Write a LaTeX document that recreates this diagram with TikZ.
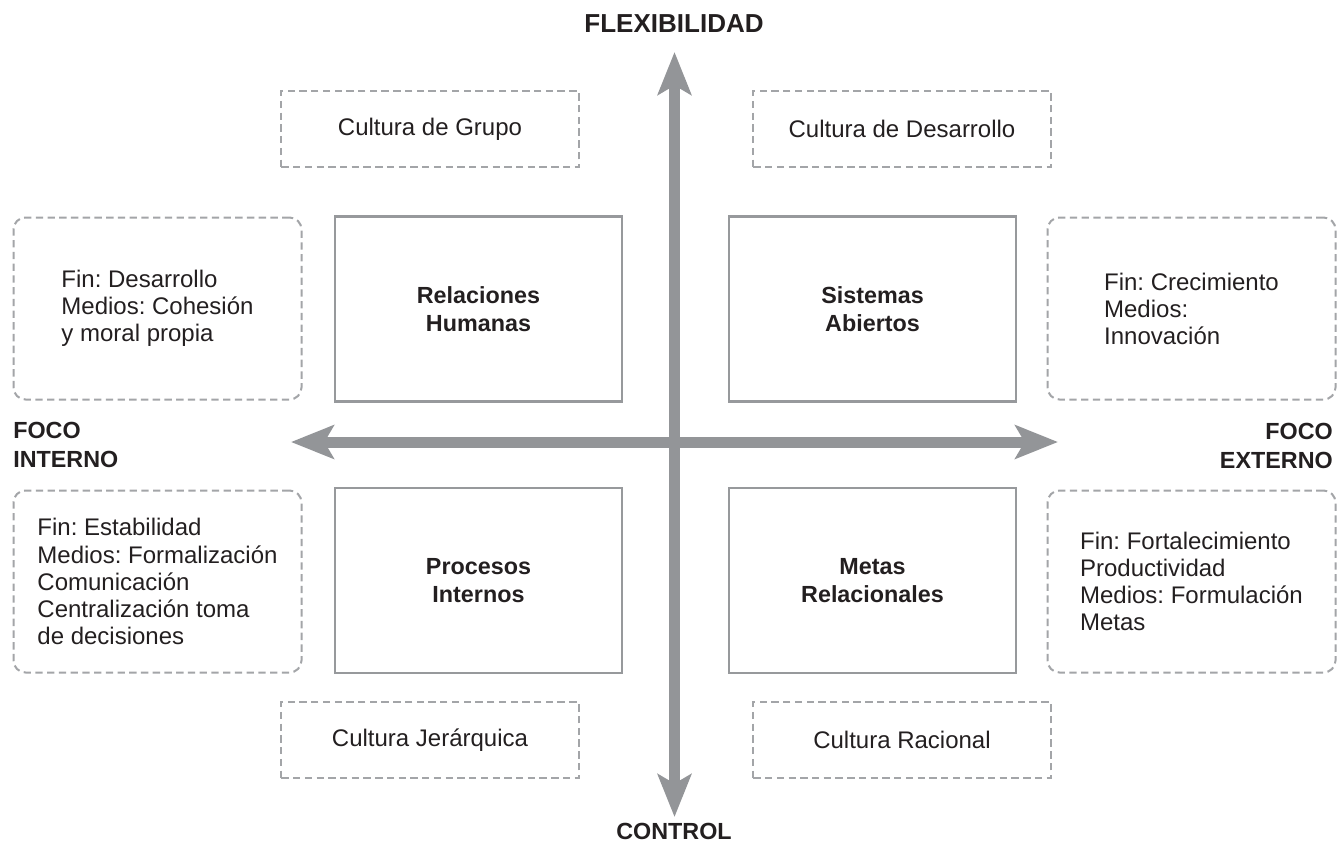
\documentclass[tikz,border=0pt]{standalone}
\usepackage{fontspec}
\setmainfont{Liberation Sans}
\usetikzlibrary{arrows.meta}
\definecolor{axisgray}{HTML}{939598}
\definecolor{dashgray}{HTML}{A3A5A8}
\definecolor{boxgray}{HTML}{97999C}
\definecolor{txt}{HTML}{231F20}
\frenchspacing
\begin{document}
\begin{tikzpicture}[x=0.75pt,y=-0.75pt,
  regtext/.style={font=\fontsize{18}{20.3}\selectfont\frenchspacing, text=txt},
  boldtext/.style={font=\fontsize{17.5}{21}\selectfont\bfseries, text=txt},
  quadbox/.style={draw=boxgray, line width=1.9pt, minimum width=215.25pt, minimum height=138.5pt, inner sep=0pt, boldtext, align=center},
  infobox/.style={draw=dashgray, line width=1.5pt, dash pattern=on 5.5pt off 3.3pt, rounded corners=9pt, minimum width=216pt, minimum height=136.5pt, inner sep=0pt, regtext, align=left},
  culturebox/.style={draw=dashgray, line width=1.5pt, dash pattern=on 5.5pt off 3.3pt, minimum width=223pt, minimum height=57pt, inner sep=0pt, regtext},
  axis/.style={draw=axisgray, line width=8.25pt, {Stealth[length=32pt, width=25pt, inset=7pt, fill=axisgray]}-{Stealth[length=32pt, width=25pt, inset=7pt, fill=axisgray]}},
  axislabel/.style={font=\fontsize{17.5}{22}\selectfont\bfseries, text=txt, inner sep=0pt}
]
\useasboundingbox (0,0) rectangle (1344,844);

% axes
\coordinate (west) at (291,442);
\coordinate (east) at (1058,442);
\coordinate (north) at (674.5,52);
\coordinate (south) at (674.5,817);
\path[axis] (west) -- (east);
\path[axis] (south) -- (north);

% axis labels
\node[axislabel, font=\fontsize{19.5}{22}\selectfont\bfseries] (flex) at (674,24) {FLEXIBILIDAD};
\node[axislabel] (control) at (674,831) {CONTROL};
\node[axislabel, anchor=west, align=left] (interno) at (13,445) {FOCO\\INTERNO};
\node[axislabel, anchor=east, align=right] (externo) at (1333,446) {FOCO\\EXTERNO};

% culture boxes
\node[culturebox] (grupo) at (430,129) {Cultura de Grupo};
\node[culturebox] (desarrollo) at (902,129) {Cultura de Desarrollo};
\node[culturebox] (jerarquica) at (430,740) {Cultura Jerárquica};
\node[culturebox] (racional) at (902,740) {Cultura Racional};

% quadrant boxes
\node[quadbox] (rh) at (478.5,309) {Relaciones\\Humanas};
\node[quadbox] (sa) at (872.5,309) {Sistemas\\Abiertos};
\node[quadbox] (pi) at (478.5,580.5) {Procesos\\Internos};
\node[quadbox] (mr) at (872.5,580.5) {Metas\\Relacionales};

% info boxes
\node[infobox] (infoTL) at (157.5,308.5) {Fin: Desarrollo\\Medios: Cohesión\\y moral propia};
\node[infobox] (infoTR) at (1191.5,308.5) {Fin: Crecimiento\\Medios:\\Innovación};
\node[infobox] (infoBL) at (157.5,581.5) {Fin: Estabilidad\\Medios: Formalización\\Comunicación\\Centralización toma\\de decisiones};
\node[infobox] (infoBR) at (1191.5,581.5) {Fin: Fortalecimiento\\Productividad\\Medios: Formulación\\Metas};
\end{tikzpicture}
\end{document}
